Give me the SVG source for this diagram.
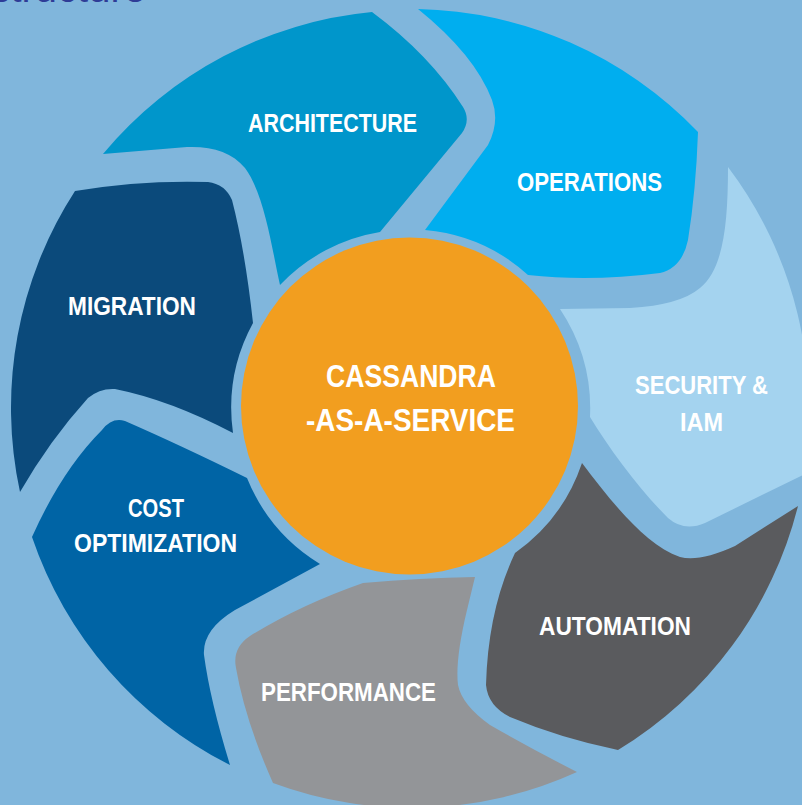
<svg xmlns="http://www.w3.org/2000/svg" width="802" height="805" viewBox="0 0 802 805">
  <style>
    .label { font-family: "Liberation Sans", Arial, sans-serif; font-weight: bold; fill: #ffffff; font-size: 26px; }
    .center-label { font-family: "Liberation Sans", Arial, sans-serif; font-weight: bold; fill: #ffffff; font-size: 32px; }
    .title { font-family: "Liberation Sans", Arial, sans-serif; fill: #2e3c97; font-size: 40px; }
  </style>
  <rect x="0" y="0" width="802" height="805" fill="#80b6dc"/>
  <text class="title" x="146" y="2" text-anchor="end">Infrastructure</text>

  <g id="architecture">
    <path fill="#0096cb" d="M 103,154 A 399 399 0 0 1 372,12 Q 430,55 463,107 Q 471,120 462,133 L 380,232 A 177 177 0 0 0 280,285 C 272,250 265,195 245,168 C 232,152 212,146 187,147 Z"/>
    <text class="label" x="248" y="132" textLength="169" lengthAdjust="spacingAndGlyphs">ARCHITECTURE</text>
  </g>

  <g id="operations">
    <path fill="#00aeef" d="M 418,9 Q 475,55 492,100 Q 500,122 488,145 L 425,230 A 177 177 0 0 1 528,275 Q 590,282 660,273 Q 682,268 688,240 Q 696,190 698,132 A 399 399 0 0 0 418,9 Z"/>
    <text class="label" x="517" y="191" textLength="145" lengthAdjust="spacingAndGlyphs">OPERATIONS</text>
  </g>

  <g id="security">
    <path fill="#a4d3ef" d="M 728,167 C 728,230 722,270 700,288 Q 680,305 630,308 L 560,309 A 180 180 0 0 1 590,417 C 610,450 640,490 668,518 Q 684,532 705,523 L 803,475 A 399 399 0 0 0 728,167 Z"/>
    <text class="label" x="635" y="394" textLength="133" lengthAdjust="spacingAndGlyphs">SECURITY &amp;</text>
    <text class="label" x="680" y="430.7" textLength="43" lengthAdjust="spacingAndGlyphs">IAM</text>
  </g>

  <g id="automation">
    <path fill="#5a5b5e" d="M 582,463 C 610,500 645,545 680,557 Q 700,562 735,546 L 798,506 A 399 399 0 0 1 618,750 Q 560,738 510,717 Q 488,706 486,685 Q 488,610 515,553 A 181 181 0 0 0 582,463 Z"/>
    <text class="label" x="539" y="635" textLength="152" lengthAdjust="spacingAndGlyphs">AUTOMATION</text>
  </g>

  <g id="performance">
    <path fill="#939598" d="M 363,583 Q 420,578 475,577 L 467,610 Q 455,660 458,685 Q 462,705 490,725 Q 530,748 577,772 A 399 399 0 0 1 273,783 Q 245,720 236,668 Q 232,648 250,636 Q 300,605 363,583 Z"/>
    <text class="label" x="261" y="700.7" textLength="175" lengthAdjust="spacingAndGlyphs">PERFORMANCE</text>
  </g>

  <g id="cost-optimization">
    <path fill="#0064a5" d="M 32,537 A 399 399 0 0 0 230,765 Q 210,700 204,655 Q 202,630 235,610 L 320,564 A 180 180 0 0 1 247,478 Q 180,445 125,421 Q 112,417 102,430 Q 62,470 32,537 Z"/>
    <text class="label" x="128" y="516.7" textLength="56" lengthAdjust="spacingAndGlyphs">COST</text>
    <text class="label" x="74" y="551.7" textLength="163" lengthAdjust="spacingAndGlyphs">OPTIMIZATION</text>
  </g>

  <g id="migration">
    <path fill="#0b4a7b" d="M 20,492 A 399 399 0 0 1 75,191 Q 140,180 208,182 Q 225,184 232,200 Q 245,250 253,323 A 178 178 0 0 0 233,433 Q 170,400 115,389 Q 100,388 88,398 Q 50,440 20,492 Z"/>
    <text class="label" x="68" y="315" textLength="128" lengthAdjust="spacingAndGlyphs">MIGRATION</text>
  </g>

  <g id="cassandra-as-a-service">
    <circle cx="409.5" cy="406" r="168.5" fill="#f29e1f"/>
    <text class="center-label" x="326" y="386.7" textLength="170" lengthAdjust="spacingAndGlyphs">CASSANDRA</text>
    <text class="center-label" x="306" y="430.7" textLength="209" lengthAdjust="spacingAndGlyphs">-AS-A-SERVICE</text>
  </g>

  <g id="connectors"></g>
</svg>
